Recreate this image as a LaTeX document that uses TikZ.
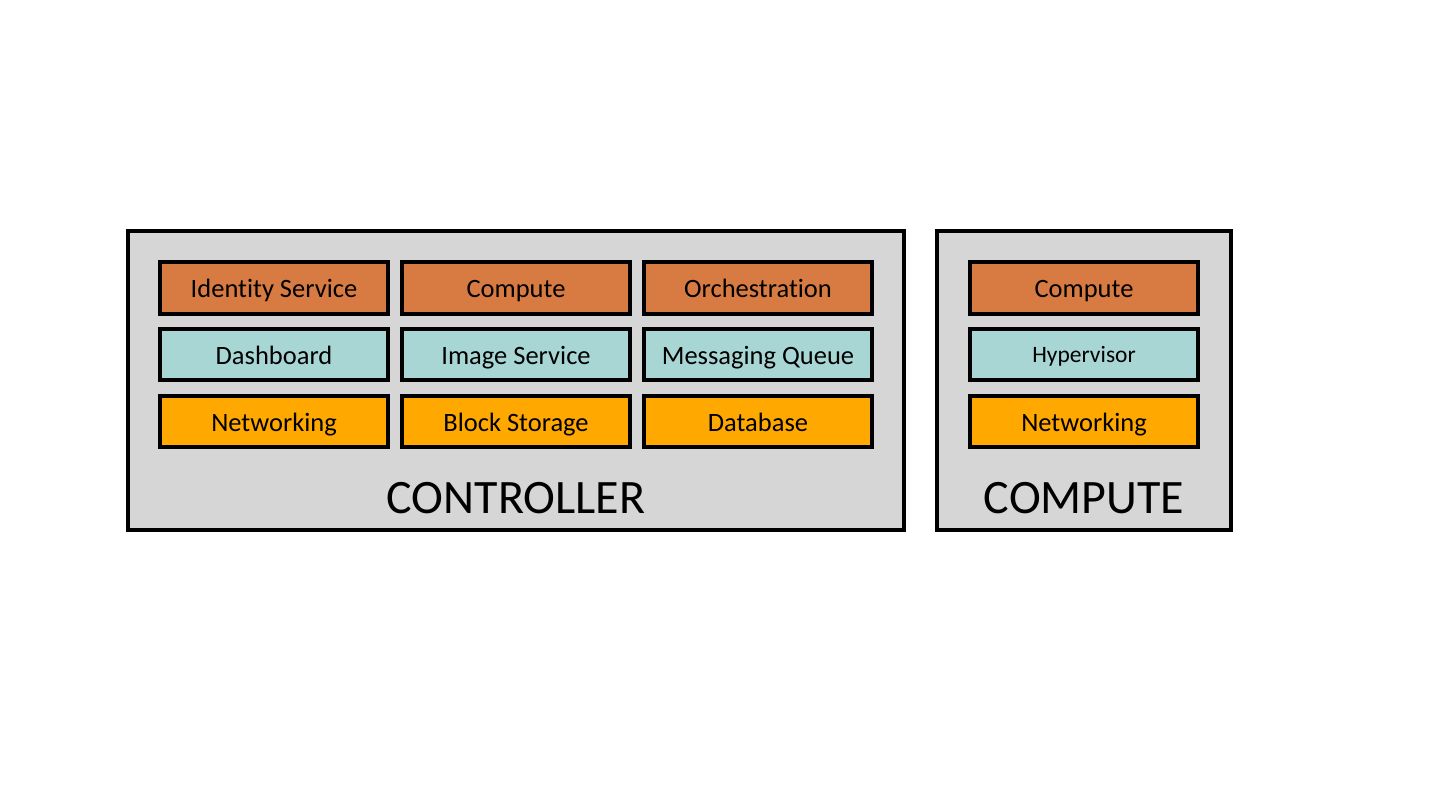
\documentclass[tikz,border=0pt]{standalone}
\usepackage{fontspec}
\setmainfont[Ligatures=NoCommon]{Carlito}
\definecolor{cgray}{HTML}{D6D6D6}
\definecolor{crust}{HTML}{D77B42}
\definecolor{cteal}{HTML}{A8D6D5}
\definecolor{corange}{HTML}{FFA800}
\begin{document}
\begin{tikzpicture}[x=1pt,y=-1pt,
  outer/.style={draw=black,line width=4pt,fill=cgray},
  comp/.style={draw=black,line width=4pt,minimum width=228pt,minimum height=51pt,inner sep=0pt,
     font=\fontsize{26.5}{30}\selectfont,text height=22pt,text depth=2pt,anchor=center},
  rust/.style={comp,fill=crust},
  teal/.style={comp,fill=cteal},
  orng/.style={comp,fill=corange},
  title/.style={font=\fontsize{48}{54}\selectfont,anchor=base}]
\useasboundingbox (0,0) rectangle (1440,810);
\draw[outer] (128,231) rectangle (904,530);
\draw[outer] (937,231) rectangle (1231,530);
% controller
\node[rust] (ids) at (274,288) {Identity Service};
\node[rust] (cmp) at (516,288) {Compute};
\node[rust] (orc) at (758,288) {Orchestration};
\node[teal] (dash) at (274,354) {Dashboard};
\node[teal] (img) at (516,354) {Image Service};
\node[teal] (mq) at (758,354) {Messaging Queue};
\node[orng] (net) at (274,421) {Networking};
\node[orng] (blk) at (516,421) {Block Storage};
\node[orng] (db) at (758,421) {Database};
\node[title] (ctl) at (516,513) {CONTROLLER};
% compute node
\node[rust] (ccmp) at (1084,288) {Compute};
\node[teal,font=\fontsize{23.5}{26}\selectfont,text height=18pt,text depth=2pt] (hyp) at (1084,354) {Hypervisor};
\node[orng] (cnet) at (1084,421) {Networking};
\node[title] (ctit) at (1084,513) {COMPUTE};
\end{tikzpicture}
\end{document}
